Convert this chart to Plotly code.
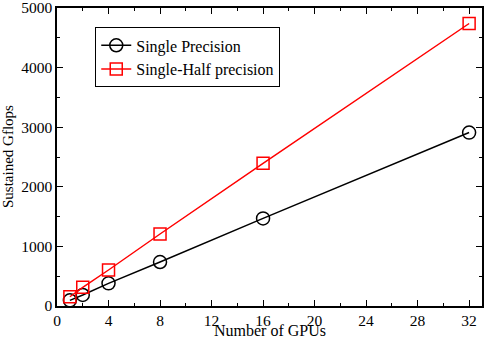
import plotly.graph_objects as go

gpus = [1, 2, 4, 8, 16, 32]
single = [95, 185, 380, 738, 1470, 2910]
single_half = [155, 313, 604, 1208, 2394, 4740]

FONT = "Liberation Serif, Times New Roman, serif"

fig = go.Figure()
fig.add_trace(go.Scatter(
    x=gpus, y=single, name="Single Precision", mode="lines+markers",
    line=dict(color="black", width=1.5),
    marker=dict(symbol="circle-open", size=13, color="black", line=dict(width=1.5))))
fig.add_trace(go.Scatter(
    x=gpus, y=single_half, name="Single-Half precision", mode="lines+markers",
    line=dict(color="red", width=1.5),
    marker=dict(symbol="square-open", size=12, color="red", line=dict(width=1.5))))

axis = dict(showline=True, linecolor="black", linewidth=1.5, mirror="allticks",
            ticks="inside", ticklen=6, tickwidth=1.2, tickcolor="black",
            showgrid=False, zeroline=False, automargin=False,
            ticklabeloverflow="allow",
            tickfont=dict(family=FONT, size=15.5, color="black"),
            minor=dict(ticks="inside", ticklen=3, tickwidth=1.2, tickcolor="black"))

fig.update_xaxes(**axis, range=[0, 33], dtick=4, tick0=0)
fig.update_xaxes(minor_dtick=2)
fig.update_yaxes(**axis, range=[0, 5000], dtick=1000)
fig.update_yaxes(minor_dtick=500)

# axis titles as annotations so they sit exactly where the original has them
fig.add_annotation(text="Number of GPUs", xref="paper", yref="paper", x=0.5, y=0,
                   xanchor="center", yanchor="middle", yshift=-24, borderpad=0,
                   showarrow=False, font=dict(family=FONT, size=16))
fig.add_annotation(text="Sustained Gflops", xref="paper", yref="paper", x=0, y=0.5,
                   xanchor="center", yanchor="middle", xshift=-49, textangle=-90,
                   showarrow=False, font=dict(family=FONT, size=15))

fig.update_layout(
    width=485, height=338,
    margin=dict(l=57, r=3, t=8, b=32),
    paper_bgcolor="white", plot_bgcolor="white",
    font=dict(family=FONT, color="black"),
    legend=dict(x=0.09, y=0.935, xanchor="left", yanchor="top",
                bordercolor="black", borderwidth=1, bgcolor="white",
                font=dict(family=FONT, size=16), tracegroupgap=0,
                itemwidth=30),
)

fig.write_html("out.html", config={"displayModeBar": False},
               post_script="document.body.style.margin='0';")
